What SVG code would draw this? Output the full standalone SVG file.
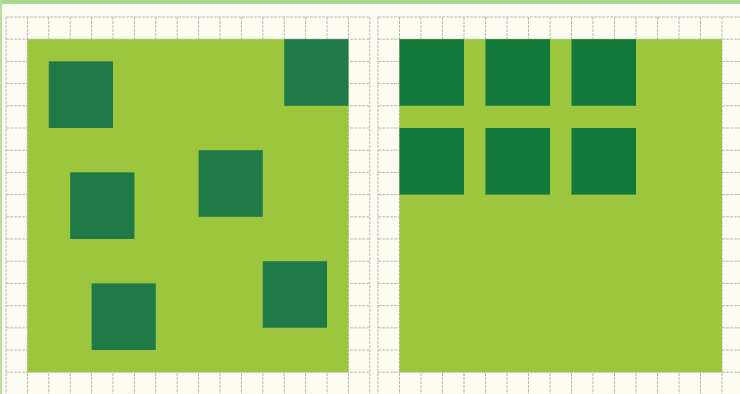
<svg xmlns="http://www.w3.org/2000/svg" width="740" height="394" viewBox="0 0 740 394">
<style>
.grid{fill:none;stroke:#bdb7b4;stroke-width:1;stroke-dasharray:3 1}
.field{fill:#9dc63f}
.sqL{fill:#1f7a48}
.sqR{fill:#13793a}
</style>
<rect x="0" y="0" width="740" height="394" fill="#fdfcf3"/>
<rect x="0" y="0" width="740" height="4" fill="#a9d98e"/>
<rect x="0" y="0" width="2" height="394" fill="#b8de9e"/>
<g id="grid-left">
<path class="grid" d="M6 17V394M27.4 17V394M48.8 17V394M70.2 17V394M91.6 17V394M113 17V394M134.4 17V394M155.8 17V394M177.2 17V394M198.6 17V394M220 17V394M241.4 17V394M262.8 17V394M284.2 17V394M305.6 17V394M327 17V394M348.4 17V394M369.8 17V394M6 17H370M6 39.2H370M6 61.4H370M6 83.6H370M6 105.8H370M6 128H370M6 150.2H370M6 172.4H370M6 194.6H370M6 216.8H370M6 239H370M6 261.2H370M6 283.4H370M6 305.6H370M6 327.8H370M6 350H370M6 372.2H370"/>
</g>
<g id="grid-right">
<path class="grid" d="M378 17V394M399.5 17V394M421 17V394M442.5 17V394M464 17V394M485.5 17V394M507 17V394M528.5 17V394M550 17V394M571.5 17V394M593 17V394M614.5 17V394M636 17V394M657.5 17V394M679 17V394M700.5 17V394M722 17V394M378 17H740M378 39.2H740M378 61.4H740M378 83.6H740M378 105.8H740M378 128H740M378 150.2H740M378 172.4H740M378 194.6H740M378 216.8H740M378 239H740M378 261.2H740M378 283.4H740M378 305.6H740M378 327.8H740M378 350H740M378 372.2H740"/>
</g>
<g id="field-left"><rect class="field" x="27.4" y="39.2" width="321" height="333"/></g>
<g id="field-right"><rect class="field" x="399.5" y="39.2" width="322.5" height="333"/></g>
<g id="left-square-1"><rect class="sqL" x="48.8" y="61.4" width="64.2" height="66.6"/></g>
<g id="left-square-2"><rect class="sqL" x="284.2" y="39.2" width="64.2" height="66.6"/></g>
<g id="left-square-3"><rect class="sqL" x="198.6" y="150.2" width="64.2" height="66.6"/></g>
<g id="left-square-4"><rect class="sqL" x="70.2" y="172.4" width="64.2" height="66.6"/></g>
<g id="left-square-5"><rect class="sqL" x="262.8" y="261.2" width="64.2" height="66.6"/></g>
<g id="left-square-6"><rect class="sqL" x="91.6" y="283.4" width="64.2" height="66.6"/></g>
<g id="right-square-1"><rect class="sqR" x="399.5" y="39.2" width="64.5" height="66.6"/></g>
<g id="right-square-2"><rect class="sqR" x="485.5" y="39.2" width="64.5" height="66.6"/></g>
<g id="right-square-3"><rect class="sqR" x="571.5" y="39.2" width="64.5" height="66.6"/></g>
<g id="right-square-4"><rect class="sqR" x="399.5" y="128" width="64.5" height="66.6"/></g>
<g id="right-square-5"><rect class="sqR" x="485.5" y="128" width="64.5" height="66.6"/></g>
<g id="right-square-6"><rect class="sqR" x="571.5" y="128" width="64.5" height="66.6"/></g>
<g id="connectors"></g>
</svg>
